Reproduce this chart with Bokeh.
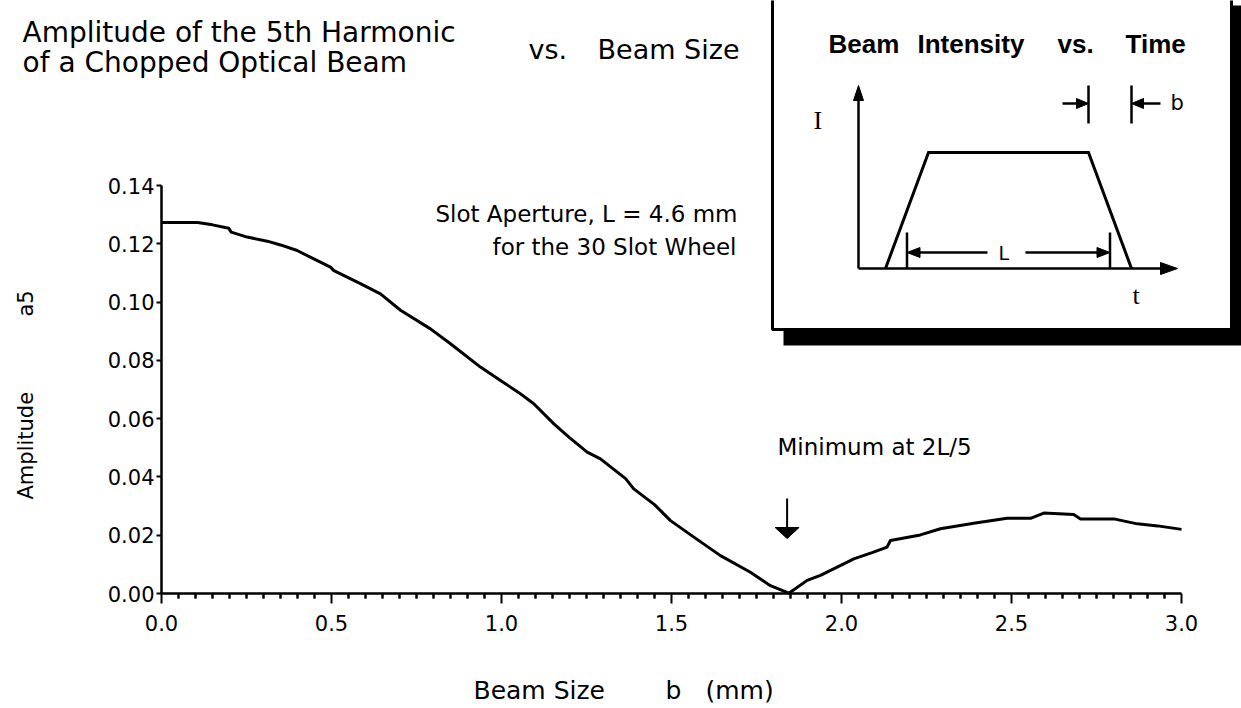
import numpy as np
from math import pi
from bokeh.plotting import figure
from bokeh.models import Range1d, LinearAxis, FixedTicker, PrintfTickFormatter, Label
from bokeh.embed import file_html
from bokeh.resources import INLINE

# ---------------- data ----------------
beam_size_mm = [0.0, 0.05, 0.106, 0.15, 0.198, 0.205, 0.252, 0.311, 0.35, 0.399, 0.448, 0.497,
                0.507, 0.585, 0.644, 0.703, 0.791, 0.85, 0.938, 0.997, 1.05, 1.095, 1.154,
                1.20, 1.252, 1.291, 1.365, 1.389, 1.45, 1.497, 1.57, 1.644, 1.732, 1.791,
                1.845, 1.899, 1.938, 2.026, 2.036, 2.09, 2.134, 2.144, 2.232, 2.291, 2.389,
                2.487, 2.556, 2.595, 2.683, 2.703, 2.801, 2.87, 2.93, 3.0]
amplitude_a5 = [0.1273, 0.1273, 0.1273, 0.1265, 0.1253, 0.1240, 0.1223, 0.1209, 0.1196, 0.1177,
                0.1148, 0.1120, 0.1108, 0.1063, 0.1028, 0.0972, 0.0908, 0.0857, 0.0777, 0.0731,
                0.0690, 0.0651, 0.0582, 0.0535, 0.0485, 0.0462, 0.0394, 0.0359, 0.0305, 0.0250,
                0.0190, 0.0130, 0.0073, 0.0027, 0.0001, 0.0045, 0.0062, 0.0113, 0.0119, 0.0140,
                0.0159, 0.0182, 0.0201, 0.0222, 0.0241, 0.0258, 0.0258, 0.0276, 0.0271, 0.0256,
                0.0256, 0.0239, 0.0232, 0.0220]

x_ticks = [0.0, 0.5, 1.0, 1.5, 2.0, 2.5, 3.0]
x_minor_ticks = [round(0.05 * i, 2) for i in range(61) if i % 10 != 0]
y_ticks = [0.00, 0.02, 0.04, 0.06, 0.08, 0.10, 0.12, 0.14]

slot_aperture_L = 4.6   # mm
minimum_at = 2 * slot_aperture_L / 5

# ---------------- layout constants (picture pixels) ----------------
W, H, PAGE = 1241, 708, 0
X0, SX = 161.0, 340.0            # picture x of b=0, px per mm
Y0, SY = 593.0, 408.0 / 0.14     # picture y of a=0, px per unit amplitude
K = 0.37                         # baseline correction (fraction of font size)

p = figure(width=W, height=H, output_backend="svg", toolbar_location=None,
           x_axis_type=None, y_axis_type=None,
           x_range=Range1d((PAGE - X0) / SX, (PAGE + W - X0) / SX),
           y_range=Range1d((Y0 - (PAGE + H)) / SY, (Y0 - PAGE) / SY),
           min_border=0, outline_line_color=None, background_fill_color="white")
p.min_border_left = p.min_border_right = p.min_border_top = p.min_border_bottom = 0
p.extra_x_ranges = {"px": Range1d(PAGE, PAGE + W)}
p.extra_y_ranges = {"py": Range1d(PAGE + H, PAGE)}

SANS = "DejaVu Sans"

# ---------------- axes ----------------
xaxis = LinearAxis(fixed_location=0, bounds=(0, 3),
                   ticker=FixedTicker(ticks=x_ticks, minor_ticks=x_minor_ticks),
                   formatter=PrintfTickFormatter(format="%.1f"),
                   axis_line_width=2.5, axis_line_color="black",
                   major_tick_line_width=2, major_tick_line_color="black",
                   minor_tick_line_width=2, minor_tick_line_color="black",
                   major_tick_out=10, major_tick_in=0, minor_tick_out=5, minor_tick_in=0,
                   major_label_text_font=SANS, major_label_text_font_size="21px",
                   major_label_text_color="black", major_label_standoff=11)
p.add_layout(xaxis, "below")

# minor ticks under the x axis (drawn through the data scale as well)
p.segment(x0=x_minor_ticks, y0=[0.0] * len(x_minor_ticks),
          x1=x_minor_ticks, y1=[-5.0 / SY] * len(x_minor_ticks),
          line_width=2, line_color="black")

yaxis = LinearAxis(fixed_location=0, bounds=(0, 0.14),
                   ticker=FixedTicker(ticks=y_ticks, minor_ticks=[]),
                   formatter=PrintfTickFormatter(format="%.2f"),
                   axis_line_width=2.5, axis_line_color="black",
                   major_tick_line_width=2, major_tick_line_color="black",
                   major_tick_out=5, major_tick_in=0, minor_tick_out=0, minor_tick_in=0,
                   major_label_text_font=SANS, major_label_text_font_size="21px",
                   major_label_text_color="black", major_label_standoff=2)
p.add_layout(yaxis, "left")

# ---------------- curve ----------------
p.line(beam_size_mm, amplitude_a5, line_width=3, line_color="black", line_join="round")

PX = dict(x_range_name="px", y_range_name="py")

# ---------------- minimum arrow ----------------
ax = X0 + minimum_at * SX
p.line([ax, ax], [498, 528], line_width=2, line_color="black", **PX)
p.patch([ax - 12, ax + 12, ax], [527, 527, 538], fill_color="black", line_color="black",
        line_width=1, **PX)

def lab(text, x, y, size, font=SANS, align="left", style="normal", angle=0.0):
    # (x, y) is the intended baseline start in picture pixels
    if angle:
        x = x - K * size
    else:
        y = y - K * size
    p.add_layout(Label(x=x, y=y, text=text, x_range_name="px", y_range_name="py",
                       text_font=font, text_font_size=f"{size}px", text_font_style=style,
                       text_align=align, text_baseline="alphabetic", text_color="black",
                       angle=angle))

# titles & annotations
lab("Amplitude of the 5th Harmonic", 22, 42, 28)
lab("of a Chopped Optical Beam", 22, 72, 28)
lab("vs.", 528, 59, 27)
lab("Beam Size", 597, 59, 27)
lab("Slot Aperture, L = 4.6 mm", 737, 222, 23, align="right")
lab("for the 30 Slot Wheel", 736, 255, 23, align="right")
lab("Minimum at 2L/5", 777, 455, 23)
lab("Beam Size", 473, 699, 25)
lab("b", 665, 699, 25)
lab("(mm)", 705, 699, 25)
lab("Amplitude", 33, 499, 21, angle=pi / 2)
lab("a5", 33, 316, 21, angle=pi / 2)

# ---------------- inset: Beam Intensity vs. Time ----------------
p.quad(left=[783], right=[1260], top=[5], bottom=[345], fill_color="black", line_color=None, **PX)
p.quad(left=[772], right=[1231], top=[-10], bottom=[329], fill_color="white",
       line_color="black", line_width=3, **PX)

lab("Beam", 828, 53, 26, font="Liberation Sans", style="bold")
lab("Intensity", 917, 53, 26, font="Liberation Sans", style="bold")
lab("vs.", 1057, 53, 26, font="Liberation Sans", style="bold")
lab("Time", 1125, 53, 26, font="Liberation Sans", style="bold")
lab("I", 813, 130, 26, font="Liberation Serif")
lab("t", 1132, 305, 26, font="Liberation Serif")

# schematic axes
OX, OY = 858, 268
p.line([OX, OX], [OY, 98], line_width=2.5, line_color="black", **PX)
p.patch([OX - 5, OX + 5, OX], [100, 100, 85], fill_color="black", line_color="black", **PX)
p.line([OX, 1162], [OY, OY], line_width=2.5, line_color="black", **PX)
p.patch([1160, 1160, 1177], [OY - 6, OY + 6, OY], fill_color="black", line_color="black", **PX)

# trapezoid pulse: ramp width b, spacing L
T0, L_PX, B_PX, TOP = 885, 203, 43, 152
p.line([T0, T0 + B_PX, T0 + L_PX, T0 + L_PX + B_PX], [OY, TOP, TOP, OY],
       line_width=3, line_color="black", line_join="miter", **PX)

# L marker
lx1, lx2, ly = T0 + B_PX / 2, T0 + L_PX + B_PX / 2, 252
p.multi_line([[lx1, lx1], [lx2, lx2], [lx1 + 8, 987], [1025, lx2 - 8]],
             [[232, OY], [232, OY], [ly, ly], [ly, ly]], line_width=2.5, line_color="black", **PX)
p.patches([[lx1, lx1 + 13, lx1 + 13], [lx2, lx2 - 13, lx2 - 13]],
          [[ly, ly - 5, ly + 5], [ly, ly - 5, ly + 5]], fill_color="black", line_color="black", **PX)
lab("L", 998, 260, 19)

# b marker
bx1, bx2, by = T0 + L_PX, T0 + L_PX + B_PX, 103
p.multi_line([[bx1, bx1], [bx2, bx2], [1062, bx1 - 8], [bx2 + 8, 1160]],
             [[85, 123], [85, 123], [by, by], [by, by]], line_width=2.5, line_color="black", **PX)
p.patches([[bx1, bx1 - 12, bx1 - 12], [bx2, bx2 + 12, bx2 + 12]],
          [[by, by - 5, by + 5], [by, by - 5, by + 5]], fill_color="black", line_color="black", **PX)
lab("b", 1170, 110, 21)

open("out.html", "w").write(file_html(p, INLINE))
